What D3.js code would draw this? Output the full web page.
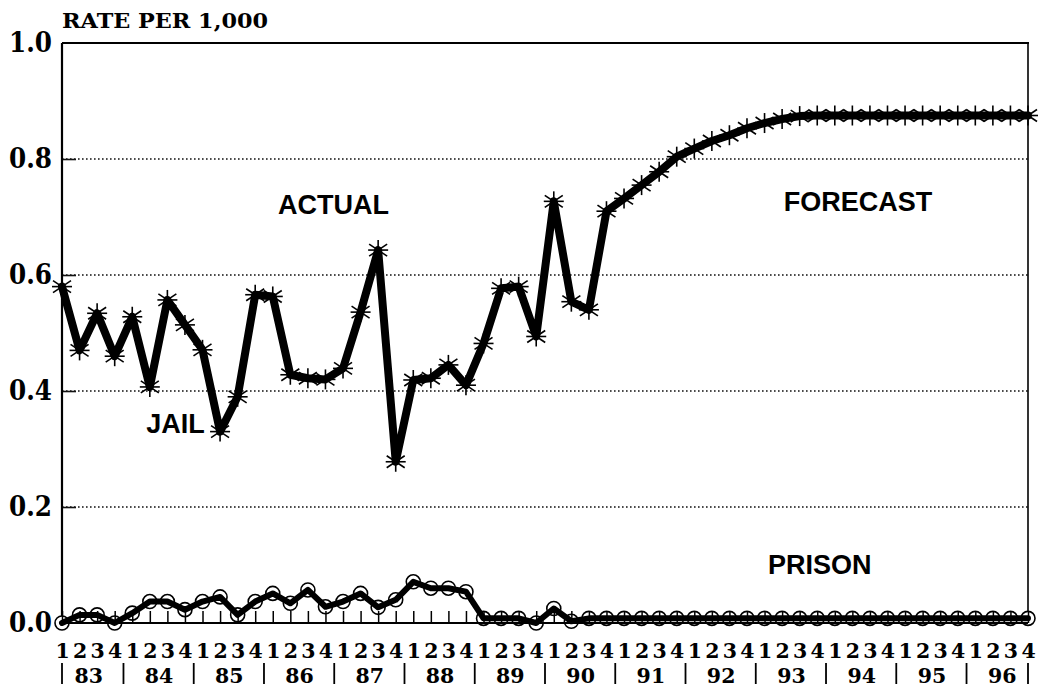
<!DOCTYPE html>
<html>
<head>
<meta charset="utf-8">
<script src="https://cdn.jsdelivr.net/npm/d3@7"></script>
<style>
  html, body { margin: 0; padding: 0; background: #fff; }
  svg { display: block; }
</style>
</head>
<body>
<svg id="chart" width="1041" height="687"></svg>
<script>
// ---- data ----
const quarters = ["1", "2", "3", "4"];
const years = ["83","84","85","86","87","88","89","90","91","92","93","94","95","96"];
const yTicks = [0, 0.2, 0.4, 0.6, 0.8, 1.0];
const jail = [
  0.580, 0.470, 0.534, 0.460, 0.528, 0.407, 0.557, 0.514, 0.471, 0.330,
  0.390, 0.566, 0.563, 0.428, 0.422, 0.420, 0.439, 0.536, 0.643, 0.278,
  0.419, 0.422, 0.445, 0.410, 0.482, 0.577, 0.580, 0.494, 0.727, 0.554,
  0.540, 0.710, 0.732, 0.755, 0.778, 0.804, 0.818, 0.831, 0.841, 0.853,
  0.862, 0.869, 0.874, 0.875, 0.875, 0.875, 0.875, 0.875, 0.875, 0.875,
  0.875, 0.875, 0.875, 0.875, 0.875, 0.875
];
const prison = [
  0.000, 0.014, 0.014, 0.000, 0.017, 0.037, 0.037, 0.023, 0.037, 0.045,
  0.014, 0.037, 0.051, 0.034, 0.057, 0.028, 0.037, 0.051, 0.027, 0.040,
  0.071, 0.060, 0.060, 0.054, 0.008, 0.008, 0.008, 0.000, 0.025, 0.003,
  0.008, 0.008, 0.008, 0.008, 0.008, 0.008, 0.008, 0.008, 0.008, 0.008,
  0.008, 0.008, 0.008, 0.008, 0.008, 0.008, 0.008, 0.008, 0.008, 0.008,
  0.008, 0.008, 0.008, 0.008, 0.008, 0.008
];
const labels = [
  {text: "ACTUAL", i: 12.3, v: 0.705},
  {text: "FORECAST", i: 41.1, v: 0.71},
  {text: "JAIL", i: 4.8, v: 0.328},
  {text: "PRISON", i: 40.2, v: 0.085}
];

// ---- layout ----
const svg = d3.select("#chart");
const pL = 62, pR = 1028, pT = 43, pB = 623;
const n = jail.length;
const x = d3.scaleLinear().domain([0, n - 1]).range([pL, pR]);
const y = d3.scaleLinear().domain([0, 1]).range([pB, pT]);

const serif = "'DejaVu Serif', serif";
const sans = "'Liberation Sans', Arial, sans-serif";

// gridlines (dotted)
svg.append("g")
  .selectAll("line")
  .data(yTicks.filter(d => d > 0 && d < 1))
  .join("line")
  .attr("x1", pL).attr("x2", pR)
  .attr("y1", d => y(d)).attr("y2", d => y(d))
  .attr("stroke", "#111").attr("stroke-width", 1.6)
  .attr("stroke-dasharray", "1.6,2.4");

// y axis
const yAxis = svg.append("g")
  .attr("transform", `translate(${pL},0)`)
  .call(d3.axisLeft(y).tickValues(yTicks).tickFormat(d3.format(".1f")).tickSize(-14).tickPadding(10));
yAxis.select(".domain").remove();
yAxis.selectAll(".tick line").attr("stroke", "#111").attr("stroke-width", 1.6)
  .filter(d => d === 0 || d === 1).remove();
yAxis.selectAll(".tick text")
  .attr("font-family", serif).attr("font-weight", "bold").attr("font-size", 27)
  .attr("fill", "#000")
  .attr("textLength", 43).attr("lengthAdjust", "spacingAndGlyphs");

// frame
svg.append("line").attr("x1", pL).attr("x2", pR + 1).attr("y1", pT).attr("y2", pT)
  .attr("stroke", "#000").attr("stroke-width", 2.2);
svg.append("line").attr("x1", pL).attr("x2", pL).attr("y1", pT).attr("y2", pB + 1)
  .attr("stroke", "#000").attr("stroke-width", 2.2);
svg.append("line").attr("x1", pR).attr("x2", pR).attr("y1", pT).attr("y2", pB)
  .attr("stroke", "#000").attr("stroke-width", 1.6);

// title
svg.append("text").attr("x", pL).attr("y", 28)
  .attr("font-family", serif).attr("font-weight", "bold").attr("font-size", 21)
  .attr("textLength", 206).attr("lengthAdjust", "spacingAndGlyphs")
  .text("RATE PER 1,000");

// prison series: circles then line
const line = d3.line().x((d, i) => x(i)).y(d => y(d));
svg.append("g").selectAll("circle")
  .data(prison).join("circle")
  .attr("cx", (d, i) => x(i)).attr("cy", d => y(d)).attr("r", 7)
  .attr("fill", "#fff").attr("stroke", "#000").attr("stroke-width", 1.6);
svg.append("path").datum(prison)
  .attr("d", line).attr("fill", "none").attr("stroke", "#000")
  .attr("stroke-width", 6).attr("stroke-linejoin", "round").attr("stroke-linecap", "round");

// x axis (quarters) with inward ticks
const xAxis = svg.append("g")
  .attr("transform", `translate(0,${pB})`)
  .call(d3.axisBottom(x).tickValues(d3.range(n)).tickFormat(i => quarters[i % 4]).tickSize(-12).tickPadding(20));
xAxis.select(".domain").remove();
xAxis.selectAll(".tick line").attr("stroke", "#000").attr("stroke-width", 1.5);
xAxis.selectAll(".tick text")
  .attr("font-family", serif).attr("font-weight", "bold").attr("font-size", 20.5).attr("fill", "#000");
svg.append("line").attr("x1", pL).attr("x2", pR).attr("y1", pB).attr("y2", pB)
  .attr("stroke", "#000").attr("stroke-width", 2.2);

// years axis
const yearAxis = svg.append("g")
  .attr("transform", `translate(0,${pB})`)
  .call(d3.axisBottom(x).tickValues(years.map((d, k) => 4 * k + 1.5)).tickFormat((d, k) => years[k]).tickSize(0).tickPadding(45));
yearAxis.select(".domain").remove();
yearAxis.selectAll(".tick text")
  .attr("font-family", serif).attr("font-weight", "bold").attr("font-size", 20.5).attr("fill", "#000");

// year separators
const seps = [0].concat(years.slice(1).map((d, k) => 4 * (k + 1) - 0.5)).concat([n - 1]);
svg.append("g").selectAll("line").data(seps).join("line")
  .attr("x1", d => x(d)).attr("x2", d => x(d))
  .attr("y1", 663).attr("y2", 684)
  .attr("stroke", "#000").attr("stroke-width", 1.8);

// jail series: line then asterisks
svg.append("path").datum(jail)
  .attr("d", line).attr("fill", "none").attr("stroke", "#000")
  .attr("stroke-width", 8).attr("stroke-linejoin", "round").attr("stroke-linecap", "round");
const ast = svg.append("g").selectAll("g").data(jail).join("g")
  .attr("transform", (d, i) => `translate(${x(i)},${y(d)})`);
const arms = [[0, -10, 0, 10], [-9, -6, 9, 6], [-9, 6, 9, -6], [-10, 0, 10, 0]];
arms.forEach(a => {
  ast.append("line").attr("x1", a[0]).attr("y1", a[1]).attr("x2", a[2]).attr("y2", a[3])
    .attr("stroke", "#000").attr("stroke-width", 1.6);
});

// text labels
svg.append("g").selectAll("text").data(labels).join("text")
  .attr("x", d => x(d.i)).attr("y", d => y(d.v))
  .attr("font-family", sans).attr("font-weight", "bold").attr("font-size", 27)
  .attr("fill", "#000")
  .text(d => d.text);
</script>
</body>
</html>
